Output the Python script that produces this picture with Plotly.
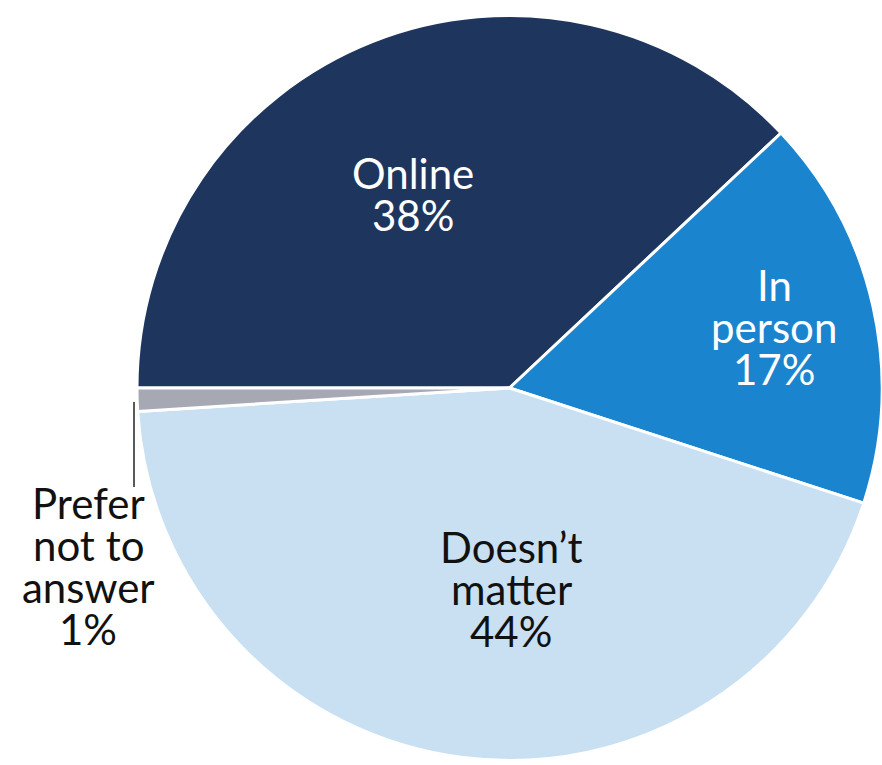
import plotly.graph_objects as go

# Survey answers: preferred format
categories = ["Online", "In person", "Doesn\u2019t matter", "Prefer not to answer"]
shares = [38, 17, 44, 1]
slice_colors = ["#1E355E", "#1B84CF", "#C8E0F2", "#A6A8B4"]
text_colors = ["white", "white", "#111111", "#111111"]

# How each category name is broken into lines in its label
label_lines = [["Online"], ["In", "person"], ["Doesn\u2019t", "matter"], ["Prefer", "not to", "answer"]]

W, H = 882, 765
FONT = "Lato"
FONT_SIZE = 42
PITCH = 42  # line spacing of the labels, px

# label anchor (centre x, middle of first line y) for each slice, in px
label_anchor = [(413, 173), (774, 285), (511, 547), (88, 503)]


def px(x):
    return x / W


def py(y):
    return 1 - y / H


fig = go.Figure(
    go.Pie(
        labels=categories,
        values=shares,
        sort=False,
        direction="clockwise",
        rotation=270,
        marker=dict(colors=slice_colors, line=dict(color="white", width=3)),
        textinfo="none",
        hoverinfo="label+percent",
        showlegend=False,
        domain=dict(x=[0.1553, 1.0], y=[0.0052, 0.9804]),
    )
)

annotations = []
for lines, share, (cx, cy), color in zip(label_lines, shares, label_anchor, text_colors):
    for i, line in enumerate(lines + [f"{share}%"]):
        annotations.append(
            dict(
                x=px(cx),
                y=py(cy + i * PITCH),
                xref="paper",
                yref="paper",
                text=line,
                showarrow=False,
                xanchor="center",
                yanchor="middle",
                font=dict(family=FONT, size=FONT_SIZE, color=color),
            )
        )

# leader line for the smallest slice
shapes = [
    dict(
        type="line",
        xref="paper",
        yref="paper",
        x0=px(134),
        x1=px(134),
        y0=py(402),
        y1=py(487),
        line=dict(color="#222222", width=1.5),
    )
]

fig.update_layout(
    width=W,
    height=H,
    margin=dict(l=0, r=0, t=0, b=0),
    paper_bgcolor="white",
    plot_bgcolor="white",
    annotations=annotations,
    shapes=shapes,
)

fig.write_html("out.html")
